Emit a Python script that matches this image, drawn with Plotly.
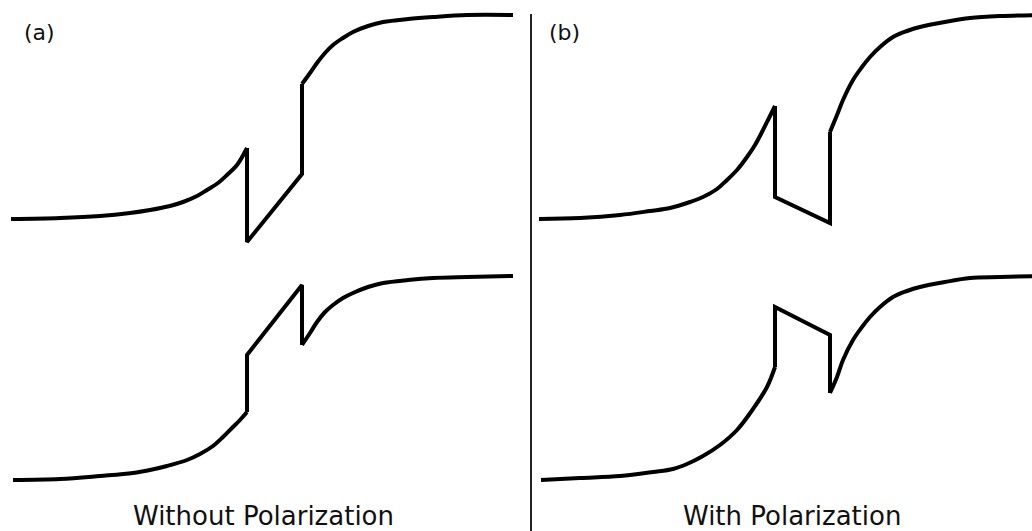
import plotly.graph_objects as go

# energy axis positions shared by both panels (arbitrary units)
# each curve: smooth rising part, straight jump section, smooth tail
# panel (a): without polarization
a_top_x = [11, 60, 100, 130, 150, 170, 183, 197, 207, 218, 227, 237, 247,
           247, 302,
           302, 310, 317, 325, 333, 343, 353, 368, 383, 408, 433, 467, 513]
a_top_y = [219, 218, 216, 213, 210, 206, 202, 196, 190, 183, 175, 165, 148,
           242, 174,
           84, 73, 63, 53, 45, 38, 32, 26, 22, 19, 17, 15, 15]

a_bot_x = [13, 60, 100, 133, 150, 167, 187, 200, 213, 223, 233, 240, 247,
           247, 302,
           302, 310, 317, 325, 333, 343, 353, 368, 383, 408, 433, 467, 513]
a_bot_y = [480, 479, 476, 473, 470, 466, 460, 454, 446, 437, 427, 420, 412,
           355, 285,
           345, 333, 322, 312, 305, 298, 293, 287, 283, 280, 278, 277, 276]

# panel (b): with polarization
b_top_x = [11, 52, 92, 122, 142, 162, 175, 189, 199, 209, 219, 227, 235, 241, 247,
           247, 302,
           302, 309, 315, 325, 334, 342, 352, 365, 379, 392, 417, 442, 472, 513]
b_top_y = [219, 218, 215, 211, 208, 202, 197, 189, 180, 170, 157, 145, 130, 118, 106,
           197, 223,
           132, 115, 100, 80, 67, 57, 47, 37, 31, 27, 22, 18, 16, 15]

b_bot_x = [13, 52, 92, 125, 145, 159, 175, 192, 209, 225, 239, 247,
           247, 302,
           302, 309, 315, 325, 334, 342, 352, 365, 379, 392, 417, 442, 472, 513]
b_bot_y = [480, 478, 476, 472, 469, 464, 456, 445, 430, 409, 387, 367,
           307, 335,
           393, 377, 360, 340, 327, 317, 307, 297, 291, 287, 282, 278, 277, 276]

panel_labels = ["(a)", "(b)"]
panel_titles = ["Without Polarization", "With Polarization"]

W, H = 1032, 531
split = 528 / W
LW = 4


def add_curve(fig, xs, ys, xaxis):
    """split curve at the two vertical jumps: smooth / straight / smooth"""
    jumps = [i for i in range(1, len(xs)) if xs[i] == xs[i - 1]]
    j1, j2 = jumps[0], jumps[1]
    parts = [(0, j1, "spline"), (j1 - 1, j2 + 1, "linear"), (j2, len(xs), "spline")]
    for start, stop, shape in parts:
        fig.add_trace(go.Scatter(
            x=xs[start:stop], y=ys[start:stop], mode="lines",
            line=dict(color="black", width=LW, shape=shape, smoothing=1.0),
            xaxis=xaxis, yaxis="y", hoverinfo="skip"))


fig = go.Figure()
add_curve(fig, a_top_x, a_top_y, "x")
add_curve(fig, a_bot_x, a_bot_y, "x")
add_curve(fig, b_top_x, b_top_y, "x2")
add_curve(fig, b_bot_x, b_bot_y, "x2")

hidden = dict(visible=False, showgrid=False, zeroline=False, fixedrange=True)
fig.update_layout(
    width=W, height=H,
    margin=dict(l=0, r=0, t=0, b=0),
    paper_bgcolor="white", plot_bgcolor="white",
    showlegend=False,
    font=dict(family="DejaVu Sans", color="#111111"),
    xaxis=dict(domain=[0, split], range=[0, 528], **hidden),
    xaxis2=dict(domain=[split, 1], range=[0, 504], anchor="y", **hidden),
    yaxis=dict(domain=[0, 1], range=[531, 0], **hidden),
)

# divider between the panels
fig.add_shape(type="line", xref="paper", yref="paper",
              x0=531 / W, x1=531 / W, y0=0, y1=1 - 14 / H,
              line=dict(color="#222222", width=2))

for i, (lab, title) in enumerate(zip(panel_labels, panel_titles)):
    fig.add_annotation(text=lab, xref="paper", yref="paper",
                       x=(22 + 525 * i) / W, y=1 - 33 / H,
                       xanchor="left", yanchor="middle", showarrow=False,
                       font=dict(size=22))
    fig.add_annotation(text=title, xref="paper", yref="paper",
                       x=(263 + 529 * i) / W, y=1 - 516 / H,
                       xanchor="center", yanchor="middle", showarrow=False,
                       font=dict(size=26))

fig.write_html("out.html", config=dict(displayModeBar=False),
               post_script="document.body.style.margin='0';"
                           "document.body.style.overflow='hidden';")
